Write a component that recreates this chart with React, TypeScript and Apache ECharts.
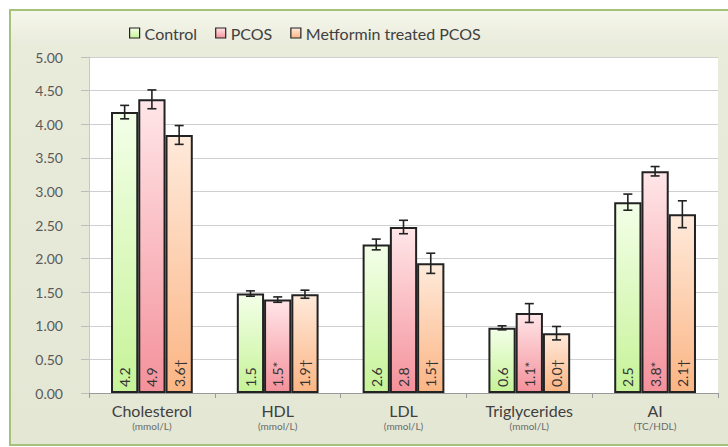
import React, { useEffect, useRef } from "react";
import * as echarts from "echarts";

const categories = ["Cholesterol", "HDL", "LDL", "Triglycerides", "AI"];
const units = ["(mmol/L)", "(mmol/L)", "(mmol/L)", "(mmol/L)", "(TC/HDL)"];
const seriesNames = ["Control", "PCOS", "Metformin treated PCOS"];
const controlValues = [4.18, 1.48, 2.21, 0.97, 2.84];
const pcosValues = [4.37, 1.39, 2.47, 1.19, 3.3];
const metforminValues = [3.84, 1.47, 1.93, 0.89, 2.66];
const controlErr = [0.1, 0.04, 0.08, 0.03, 0.12];
const pcosErr = [0.14, 0.04, 0.1, 0.14, 0.07];
const metforminErr = [0.14, 0.06, 0.15, 0.1, 0.2];
const controlLabels = ["4.2", "1.5", "2.6", "0.6", "2.5"];
const pcosLabels = ["4.9", "1.5*", "2.8", "1.1*", "3.8*"];
const metforminLabels = ["3.6†", "1.9†", "1.5†", "0.0†", "2.1†"];
const yTicks = { min: 0, max: 5, interval: 0.5 };

const FONT = "Lato, 'Open Sans', sans-serif";

function grad(top: string, bottom: string) {
  return new echarts.graphic.LinearGradient(0, 0, 0, 1, [
    { offset: 0, color: top },
    { offset: 1, color: bottom },
  ]);
}

export default function App() {
  const ref = useRef<HTMLDivElement>(null);
  useEffect(() => {
    document.body.style.margin = "0";
    const chart = echarts.init(ref.current!, null, { renderer: "svg" });
    const values = [controlValues, pcosValues, metforminValues];
    const errs = [controlErr, pcosErr, metforminErr];
    const labels = [controlLabels, pcosLabels, metforminLabels];
    const fills = [
      grad("#f3ffe8", "#c6f398"),
      grad("#ffe6e8", "#f4919b"),
      grad("#ffeadb", "#fbb584"),
    ];
    const barCategoryGap = 0.35;

    const errData: number[][] = [];
    for (let s = 0; s < 3; s++) {
      for (let c = 0; c < categories.length; c++) {
        errData.push([c, s, values[s][c], errs[s][c]]);
      }
    }

    const barSeries = seriesNames.map((name, s) => ({
      name,
      type: "bar",
      data: values[s],
      barGap: "0%",
      barCategoryGap: barCategoryGap * 100 + "%",
      itemStyle: { color: fills[s], borderColor: "#222222", borderWidth: 2 },
      label: {
        show: true,
        position: "insideBottom",
        rotate: 90,
        align: "left",
        verticalAlign: "middle",
        distance: 6,
        color: "#333333",
        fontFamily: FONT,
        fontSize: 14,
        formatter: (p: any) => labels[s][p.dataIndex],
      },
      z: 2,
    }));

    chart.setOption({
      animation: false,
      textStyle: { fontFamily: FONT },
      graphic: [
        {
          type: "rect",
          z: -10,
          silent: true,
          shape: { x: 10, y: 10, width: 730, height: 435 },
          style: {
            fill: new echarts.graphic.LinearGradient(0, 0, 0, 1, [
              { offset: 0, color: "#f6f7ec" },
              { offset: 0.08, color: "#e9ebdb" },
              { offset: 1, color: "#e4e7d4" },
            ]),
            stroke: "#a6c27a",
            lineWidth: 2,
          },
        },
      ],
      legend: {
        data: seriesNames,
        left: 124,
        top: 20,
        itemWidth: 10,
        itemHeight: 10,
        itemGap: 18,
        icon: "rect",
        itemStyle: { borderColor: "#222222", borderWidth: 1.2 },
        textStyle: { color: "#404040", fontSize: 16, fontFamily: FONT },
      },
      grid: {
        left: 89,
        right: 10,
        top: 57,
        bottom: 54,
        show: true,
        backgroundColor: "#ffffff",
        borderWidth: 0,
      },
      xAxis: {
        type: "category",
        data: categories,
        axisLine: { lineStyle: { color: "#9a9a9a", width: 1 } },
        axisTick: { show: true, length: 5, lineStyle: { color: "#9a9a9a" } },
        axisLabel: {
          margin: 8,
          formatter: (v: string, i: number) => `{a|${v}}\n{b|${units[i]}}`,
          rich: {
            a: { fontSize: 16, color: "#404040", fontFamily: FONT, lineHeight: 19 },
            b: { fontSize: 10, color: "#6a6a6a", fontFamily: FONT, lineHeight: 12 },
          },
        },
      },
      yAxis: {
        type: "value",
        min: yTicks.min,
        max: yTicks.max,
        interval: yTicks.interval,
        axisLine: { show: true, lineStyle: { color: "#c8c8c8" } },
        axisTick: { show: true, length: 8, lineStyle: { color: "#bdbdbd" } },
        axisLabel: {
          color: "#595959",
          fontSize: 14,
          fontFamily: FONT,
          margin: 26,
          formatter: (v: number) => v.toFixed(2),
        },
        splitLine: { lineStyle: { color: "#cfcfcf", width: 1.2 } },
      },
      series: [
        ...barSeries,
        {
          type: "custom",
          z: 5,
          data: errData,
          encode: { x: 0, y: 2 },
          renderItem: (params: any, api: any) => {
            const c = api.value(0);
            const s = api.value(1);
            const v = api.value(2);
            const e = api.value(3);
            const band = api.size([1, 0])[0];
            const bw = (band * (1 - barCategoryGap)) / 3;
            const center = api.coord([c, v]);
            const x = center[0] + (s - 1) * bw;
            const yTop = api.coord([c, v + e])[1];
            const yBot = api.coord([c, v - e])[1];
            const cap = 4.5;
            const st = { stroke: "#222222", lineWidth: 1.6 };
            return {
              type: "group",
              children: [
                { type: "line", shape: { x1: x, y1: yTop, x2: x, y2: yBot }, style: st },
                { type: "line", shape: { x1: x - cap, y1: yTop, x2: x + cap, y2: yTop }, style: st },
                { type: "line", shape: { x1: x - cap, y1: yBot, x2: x + cap, y2: yBot }, style: st },
              ],
            };
          },
        },
      ],
    });
    return () => chart.dispose();
  }, []);
  return <div ref={ref} style={{ width: 728, height: 447 }} />;
}
